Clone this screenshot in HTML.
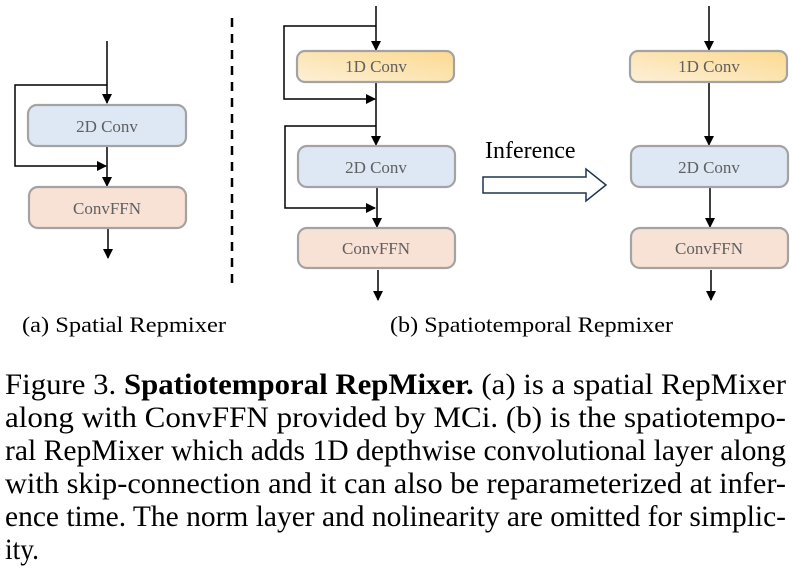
<!DOCTYPE html>
<html><head><meta charset="utf-8"><style>
html,body{margin:0;padding:0;background:#fff;}
svg{display:block;}
svg text{font-family:"Liberation Serif","Times New Roman",serif;}
</style></head><body>
<svg width="792" height="576" viewBox="0 0 792 576" xmlns="http://www.w3.org/2000/svg">
<defs>
<linearGradient id="y" x1="0" y1="1" x2="1" y2="0">
<stop offset="0" stop-color="#fdf0d8"/><stop offset="1" stop-color="#fcd98f"/>
</linearGradient>
<marker id="a" markerWidth="10" markerHeight="10" refX="9" refY="5" orient="auto" markerUnits="userSpaceOnUse">
<path d="M0,0 L10,5 L0,10 z" fill="#000"/>
</marker>
</defs>
<g stroke="#000" stroke-width="1.5" fill="none">
<path d="M107,41 V103" marker-end="url(#a)"/>
<path d="M107,85 H15 V166 H106" marker-end="url(#a)"/>
<path d="M107,146 V186" marker-end="url(#a)"/>
<path d="M108,229 V258" marker-end="url(#a)"/>
<path d="M376,6 V50" marker-end="url(#a)"/>
<path d="M376,26 H284 V99 H375" marker-end="url(#a)"/>
<path d="M376,82 V145" marker-end="url(#a)"/>
<path d="M376,126 H285 V208 H375" marker-end="url(#a)"/>
<path d="M377,187 V227" marker-end="url(#a)"/>
<path d="M378,270 V300" marker-end="url(#a)"/>
<path d="M709,6 V50" marker-end="url(#a)"/>
<path d="M709,82 V145" marker-end="url(#a)"/>
<path d="M710,187 V227" marker-end="url(#a)"/>
<path d="M711,270 V300" marker-end="url(#a)"/>
</g>
<line x1="232" y1="18" x2="232" y2="283" stroke="#000" stroke-width="2.5" stroke-dasharray="9,7"/>
<g stroke="#a3a3a3" stroke-width="2.2">
<rect x="28" y="105" width="158" height="41" rx="9" fill="#dde8f4"/>
<rect x="29" y="187" width="157" height="41" rx="9" fill="#f8e1d5"/>
<rect x="297" y="51" width="157" height="31" rx="8" fill="url(#y)"/>
<rect x="298" y="146" width="157" height="41" rx="9" fill="#dde8f4"/>
<rect x="298" y="228" width="157" height="40" rx="9" fill="#f8e1d5"/>
<rect x="630" y="51" width="157" height="31" rx="8" fill="url(#y)"/>
<rect x="631" y="146" width="157" height="41" rx="9" fill="#dde8f4"/>
<rect x="631" y="228" width="157" height="40" rx="9" fill="#f8e1d5"/>
</g>
<g fill="#606060" font-size="17" text-anchor="middle">
<text x="107" y="132">2D Conv</text>
<text x="107" y="214">ConvFFN</text>
<text x="376" y="72">1D Conv</text>
<text x="376" y="173">2D Conv</text>
<text x="376" y="254">ConvFFN</text>
<text x="709" y="72">1D Conv</text>
<text x="709" y="173">2D Conv</text>
<text x="709" y="254">ConvFFN</text>
</g>
<text x="485" y="158" font-size="24" fill="#000">Inference</text>
<path d="M483,177 H586 V169 L606,185 L586,201 V193 H483 Z" fill="#fff" stroke="#1f3350" stroke-width="1.5"/>
<g font-size="22" fill="#000">
<text x="22" y="332" textLength="204" lengthAdjust="spacingAndGlyphs">(a) Spatial Repmixer</text>
<text x="390" y="332" textLength="283" lengthAdjust="spacingAndGlyphs">(b) Spatiotemporal Repmixer</text>
</g>
<g font-size="30" fill="#000" xml:space="preserve">
<text x="5" y="394" textLength="781" lengthAdjust="spacingAndGlyphs">Figure 3.  <tspan font-weight="bold">Spatiotemporal RepMixer.</tspan>  (a) is a spatial RepMixer</text>
<text x="5" y="427" textLength="781" lengthAdjust="spacingAndGlyphs">along with ConvFFN provided by MCi.  (b) is the spatiotempo-</text>
<text x="5" y="460" textLength="781" lengthAdjust="spacingAndGlyphs">ral RepMixer which adds 1D depthwise convolutional layer along</text>
<text x="5" y="493" textLength="781" lengthAdjust="spacingAndGlyphs">with skip-connection and it can also be reparameterized at infer-</text>
<text x="5" y="526" textLength="781" lengthAdjust="spacingAndGlyphs">ence time. The norm layer and nolinearity are omitted for simplic-</text>
<text x="5" y="559" textLength="34" lengthAdjust="spacingAndGlyphs">ity.</text>
</g>
</svg>
</body></html>
